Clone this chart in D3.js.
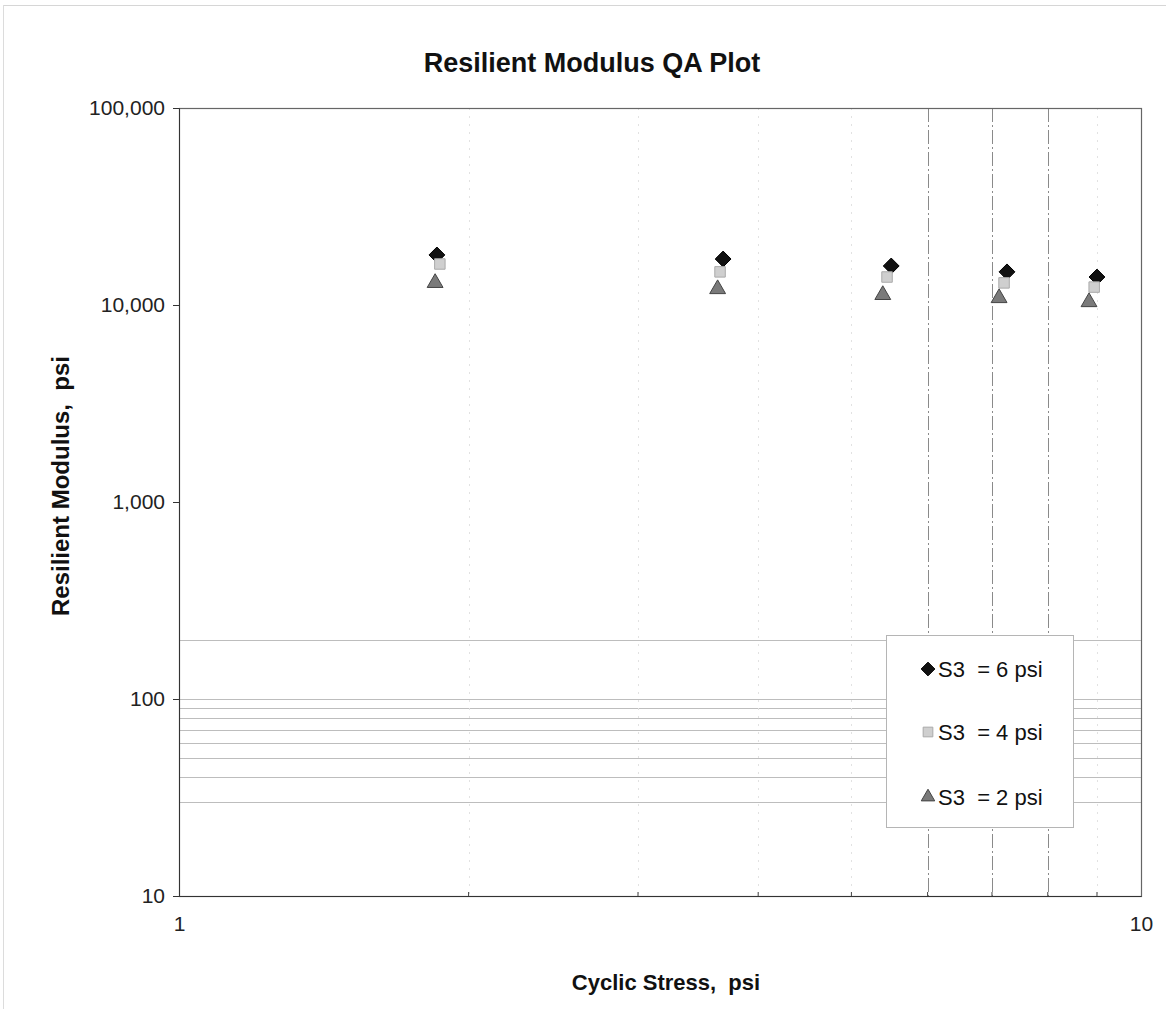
<!DOCTYPE html>
<html>
<head>
<meta charset="utf-8">
<script src="https://cdn.jsdelivr.net/npm/d3@7"></script>
<style>
html, body { margin: 0; padding: 0; background: #fff; }
svg { display: block; font-family: "Liberation Sans", Arial, sans-serif; }
</style>
</head>
<body>
<svg id="chart" width="1166" height="1009"></svg>
<script>
// ---- data ----
const seriesNames = ["S3  = 6 psi", "S3  = 4 psi", "S3  = 2 psi"];
const stress6 = [1.854, 3.678, 5.50, 7.256, 9.00];
const modulus6 = [17950, 17120, 15780, 14730, 13870];
const stress4 = [1.867, 3.651, 5.445, 7.205, 8.94];
const modulus4 = [16150, 14730, 13870, 12950, 12330];
const stress2 = [1.846, 3.630, 5.390, 7.120, 8.83];
const modulus2 = [12950, 12050, 11250, 10850, 10350];
const yTickValues = [10, 100, 1000, 10000, 100000];
const yTickLabels = ["10", "100", "1,000", "10,000", "100,000"];
const xTickValues = [1, 10];
const xTickLabels = ["1", "10"];
const hGrid = [30, 40, 50, 60, 70, 80, 90, 100, 200];
const vGridStrong = [6, 7, 8];
const vGridFaint = [2, 3, 4, 5, 9];
const xMinor = [2, 3, 4, 5, 6, 7, 8, 9];

const svg = d3.select("#chart");
const L = 179, R = 1141, T = 108, B = 896;
const x = d3.scaleLog().domain([1, 10]).range([L, R]);
const y = d3.scaleLog().domain([10, 100000]).range([B, T]);

// outer frame (faint)
svg.append("line").attr("x1", 3).attr("x2", 1166).attr("y1", 5.5).attr("y2", 5.5).attr("stroke", "#d6d6d6");
svg.append("line").attr("x1", 3.5).attr("x2", 3.5).attr("y1", 5).attr("y2", 1009).attr("stroke", "#dcdcdc");

// gridlines
const g = svg.append("g");
g.selectAll(".hg").data(hGrid).join("line")
  .attr("x1", L).attr("x2", R)
  .attr("y1", d => Math.round(y(d)) + 0.5).attr("y2", d => Math.round(y(d)) + 0.5)
  .attr("stroke", "#bdbdbd").attr("stroke-width", 1);
g.selectAll(".vf").data(vGridFaint).join("line")
  .attr("x1", d => Math.round(x(d)) + 0.5).attr("x2", d => Math.round(x(d)) + 0.5)
  .attr("y1", T).attr("y2", B)
  .attr("stroke", "#e2e2e2").attr("stroke-dasharray", "2,6");
g.selectAll(".vs").data(vGridStrong).join("line")
  .attr("x1", d => Math.round(x(d)) + 0.5).attr("x2", d => Math.round(x(d)) + 0.5)
  .attr("y1", T).attr("y2", B)
  .attr("stroke", "#8a8a8a").attr("stroke-dasharray", "14,3,2,3");

// plot border
svg.append("rect").attr("x", L + 0.5).attr("y", T + 0.5).attr("width", R - L).attr("height", B - T)
  .attr("fill", "none").attr("stroke", "#666").attr("stroke-width", 1.2);

// axes
const yAxis = d3.axisLeft(y).tickValues(yTickValues).tickFormat((d, i) => yTickLabels[i]).tickSize(6).tickPadding(8);
const ya = svg.append("g").attr("transform", `translate(${L},0)`).call(yAxis);
ya.select(".domain").attr("stroke", "#333");
ya.selectAll(".tick line").attr("stroke", "#333");
ya.selectAll("text").attr("font-size", 21).attr("fill", "#222").attr("font-family", "Liberation Sans, Arial, sans-serif");

const xAxis = d3.axisBottom(x).tickValues(xTickValues).tickFormat((d, i) => xTickLabels[i]).tickSize(0).tickPadding(20);
const xa = svg.append("g").attr("transform", `translate(0,${B})`).call(xAxis);
xa.select(".domain").attr("stroke", "#333");
xa.selectAll("text").attr("font-size", 21).attr("fill", "#222").attr("font-family", "Liberation Sans, Arial, sans-serif");
svg.append("g").selectAll("line").data(xMinor).join("line")
  .attr("x1", d => x(d)).attr("x2", d => x(d)).attr("y1", B).attr("y2", B - 4).attr("stroke", "#444");

// markers
const diamond = d3.symbol().type(d3.symbolDiamond2).size(160);
const square = d3.symbol().type(d3.symbolSquare2).size(140);
const tri = d3.symbol().type(d3.symbolTriangle2).size(180);
const styles = [
  { xs: stress6, ys: modulus6, sym: diamond, fill: "#111", stroke: "#000" },
  { xs: stress4, ys: modulus4, sym: square, fill: "#cfcfcf", stroke: "#aaa" },
  { xs: stress2, ys: modulus2, sym: tri, fill: "#7a7a7a", stroke: "#444" }
];
const ptsG = svg.append("g");
styles.forEach(s => {
  ptsG.append("g").selectAll("path").data(s.xs.map((v, i) => [v, s.ys[i]])).join("path")
    .attr("d", s.sym)
    .attr("transform", d => `translate(${x(d[0])},${y(d[1])})`)
    .attr("fill", s.fill).attr("stroke", s.stroke).attr("stroke-width", 1);
});

// legend
const lg = svg.append("g");
lg.append("rect").attr("x", 886.5).attr("y", 635.5).attr("width", 187).attr("height", 192)
  .attr("fill", "#fff").attr("stroke", "#b5b5b5");
const legY = [669, 732, 797];
const legSyms = [
  d3.symbol().type(d3.symbolDiamond2).size(120),
  d3.symbol().type(d3.symbolSquare2).size(120),
  d3.symbol().type(d3.symbolTriangle2).size(130)
];
styles.forEach((s, i) => {
  lg.append("path").attr("d", legSyms[i]).attr("transform", `translate(928,${legY[i]})`)
    .attr("fill", s.fill).attr("stroke", s.stroke);
  lg.append("text").attr("x", 938).attr("y", legY[i]).attr("dy", "0.36em")
    .attr("font-size", 22).attr("fill", "#111")
    .style("white-space", "pre").text(seriesNames[i]);
});

// titles
svg.append("text").attr("x", 592).attr("y", 72).attr("text-anchor", "middle")
  .attr("font-size", 27).attr("font-weight", "bold").attr("fill", "#111")
  .text("Resilient Modulus QA Plot");
svg.append("text").attr("x", (L + R) / 2 + 6).attr("y", 990).attr("text-anchor", "middle")
  .attr("font-size", 22).attr("font-weight", "bold").attr("fill", "#111")
  .style("white-space", "pre").text("Cyclic Stress,  psi");
svg.append("text").attr("transform", `translate(69,${(T + B) / 2 - 16}) rotate(-90)`).attr("text-anchor", "middle")
  .attr("font-size", 24).attr("font-weight", "bold").attr("fill", "#111")
  .style("white-space", "pre").text("Resilient Modulus,  psi");
</script>
</body>
</html>
